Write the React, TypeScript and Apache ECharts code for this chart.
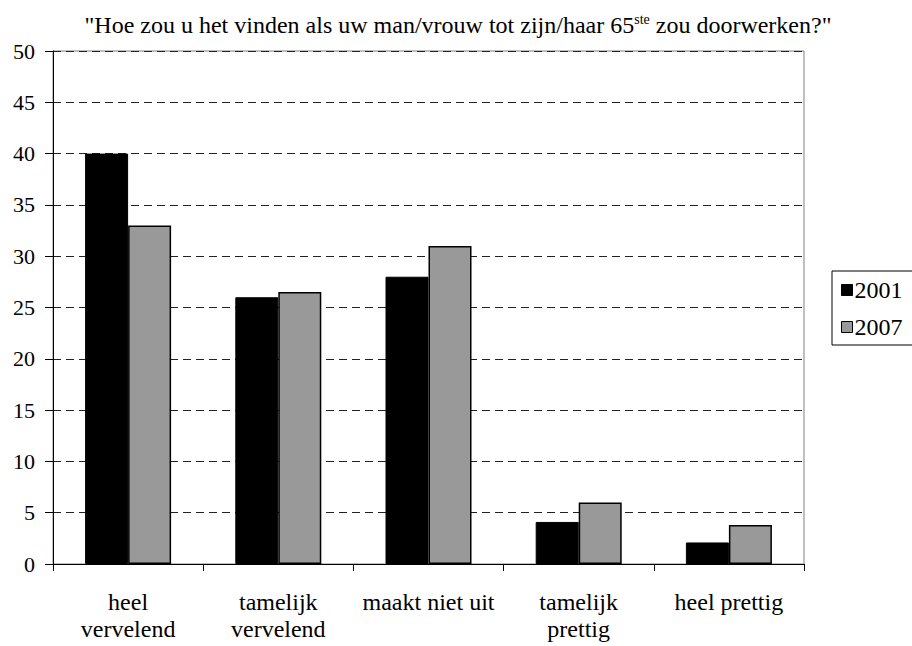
import React, { useEffect, useRef } from "react";
import * as echarts from "echarts";

const categories = ["heel\nvervelend", "tamelijk\nvervelend", "maakt niet uit", "tamelijk\nprettig", "heel prettig"];
const series2001 = [40, 26, 28, 4.1, 2.1];
const series2007 = [33, 26.5, 31, 6, 3.8];
const seriesNames = ["2001", "2007"];
const yMin = 0;
const yMax = 50;
const yInterval = 5;

const FONT = "Liberation Serif";

export default function App() {
  const ref = useRef<HTMLDivElement>(null);
  useEffect(() => {
    if (!ref.current) return;
    const chart = echarts.init(ref.current, undefined, { renderer: "svg" });
    chart.setOption({
      animation: false,
      backgroundColor: "#ffffff",
      textStyle: { fontFamily: FONT },
      title: {
        text: '"Hoe zou u het vinden als uw man/vrouw tot zijn/haar 65{sup|ste} zou doorwerken?"',
        left: 453,
        textAlign: "center",
        top: 7,
        textStyle: {
          fontFamily: FONT,
          fontSize: 24,
          fontWeight: "normal",
          color: "#000",
          lineHeight: 26,
          rich: {
            sup: { fontFamily: FONT, fontSize: 14, verticalAlign: "top", lineHeight: 14, color: "#000" },
          },
        },
      },
      legend: {
        orient: "vertical",
        left: 832,
        top: 271,
        data: seriesNames,
        icon: "rect",
        itemWidth: 11,
        itemHeight: 11,
        itemGap: 13,
        padding: [7, 20, 6, 9],
        borderColor: "#000",
        borderWidth: 1,
        textStyle: { fontFamily: FONT, fontSize: 24, color: "#000", padding: [0, 0, 0, -3], lineHeight: 24 },
        itemStyle: { borderColor: "#000", borderWidth: 1 },
      },
      grid: {
        left: 53,
        right: 108,
        top: 51,
        bottom: 82,
        show: true,
        borderColor: "#808080",
        borderWidth: 1,
        backgroundColor: "#fff",
      },
      xAxis: {
        type: "category",
        data: categories,
        axisLine: { lineStyle: { color: "#000", width: 1 } },
        axisTick: { show: true, length: 7, lineStyle: { color: "#000" } },
        axisLabel: {
          fontFamily: FONT,
          fontSize: 24,
          color: "#000",
          lineHeight: 27,
          margin: 24,
          interval: 0,
        },
      },
      yAxis: {
        type: "value",
        min: yMin,
        max: yMax,
        interval: yInterval,
        axisLine: { show: true, lineStyle: { color: "#000", width: 1 } },
        axisTick: { show: true, length: 8, lineStyle: { color: "#000" } },
        axisLabel: { fontFamily: FONT, fontSize: 22, color: "#000", margin: 18 },
        splitLine: { show: true, lineStyle: { color: "#222", type: [8, 5], width: 1 } },
      },
      series: [
        {
          name: seriesNames[0],
          type: "bar",
          data: series2001,
          barWidth: 43,
          barGap: "0%",
          itemStyle: { color: "#000000", borderColor: "#000", borderWidth: 1 },
        },
        {
          name: seriesNames[1],
          type: "bar",
          data: series2007,
          barWidth: 43,
          barGap: "0%",
          itemStyle: { color: "#999999", borderColor: "#000", borderWidth: 1.5 },
        },
      ],
    });
    return () => chart.dispose();
  }, []);
  return (
    <div
      ref={ref}
      style={{ position: "fixed", left: 0, top: 0, width: 912, height: 646 }}
    />
  );
}
